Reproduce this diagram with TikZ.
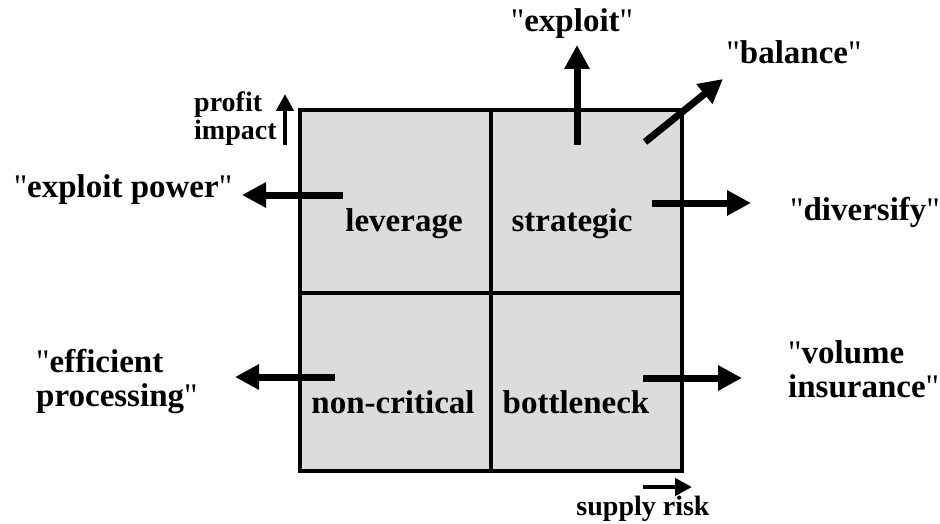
\documentclass[tikz,border=0pt]{standalone}
\usepackage{fontspec}
\setmainfont{Liberation Serif}[Ligatures=TeXOff]
\usetikzlibrary{arrows.meta}
\definecolor{quad_gray}{RGB}{220, 220, 220}
\newcommand{\dq}{{\mdseries"}}
\tikzset{
  bigtxt/.style={font=\bfseries\fontsize{33}{34}\selectfont, inner sep=0pt},
  smalltxt/.style={font=\bfseries\fontsize{28}{28}\selectfont, inner sep=0pt},
  strat/.style={line width=7pt, -{Triangle[length=24pt, width=24pt]}},
  axisarrow/.style={line width=4.5pt, -{Triangle[length=17pt, width=17pt]}}
}

\begin{document}
\begin{tikzpicture}[x=1pt, y=-1pt]
  \useasboundingbox (0,0) rectangle (940,524);
  % matrix
  \draw[line width=3.5pt, fill=quad_gray] (300,110) rectangle (682,471);
  \draw[line width=3.5pt] (491,110) -- (491,471) (300,293) -- (682,293);
  \node[bigtxt, anchor=base] (lev) at (404,231) {leverage};
  \node[bigtxt, anchor=base] (strat) at (572,231) {strategic};
  \node[bigtxt, anchor=base] (noncrit) at (393,413) {non-critical};
  \node[bigtxt, anchor=base] (bottle) at (576,413) {bottleneck};
  % axes
  \node[smalltxt, align=left, anchor=west] (profit) at (194,119) {profit\\impact};
  \node[smalltxt, anchor=base] (supply) at (643,515) {supply risk};
  \coordinate (profitS) at (285,145);
  \coordinate (profitE) at (285,94);
  \coordinate (supplyS) at (643,487);
  \coordinate (supplyE) at (692,487);
  \draw[axisarrow] (profitS) -- (profitE);
  \draw[axisarrow] (supplyS) -- (supplyE);
  % strategies
  \node[bigtxt, anchor=base] (exploit) at (572,32) {\dq exploit\dq};
  \node[bigtxt, anchor=base] (balance) at (794,64) {\dq balance\dq};
  \node[bigtxt, anchor=base] (divers) at (865,220) {\dq diversify\dq};
  \node[bigtxt, anchor=base] (power) at (123,197) {\dq exploit power\dq};
  \node[bigtxt, align=left, anchor=west] (effic) at (36,382) {\dq efficient\\processing\dq};
  \node[bigtxt, align=left, anchor=west] (volume) at (788,369) {\dq volume\\insurance\dq};
  \coordinate (exploitS) at (577,145);
  \coordinate (exploitE) at (577,45);
  \coordinate (balanceS) at (645,142);
  \coordinate (balanceE) at (723,79);
  \coordinate (diversS) at (652,203);
  \coordinate (diversE) at (751,203);
  \coordinate (powerS) at (343,195);
  \coordinate (powerE) at (242,195);
  \coordinate (efficS) at (335,377);
  \coordinate (efficE) at (235,377);
  \coordinate (volumeS) at (643,378);
  \coordinate (volumeE) at (742,378);
  \draw[strat] (exploitS) -- (exploitE);
  \draw[strat] (balanceS) -- (balanceE);
  \draw[strat] (diversS) -- (diversE);
  \draw[strat] (powerS) -- (powerE);
  \draw[strat] (efficS) -- (efficE);
  \draw[strat] (volumeS) -- (volumeE);
\end{tikzpicture}
\end{document}
